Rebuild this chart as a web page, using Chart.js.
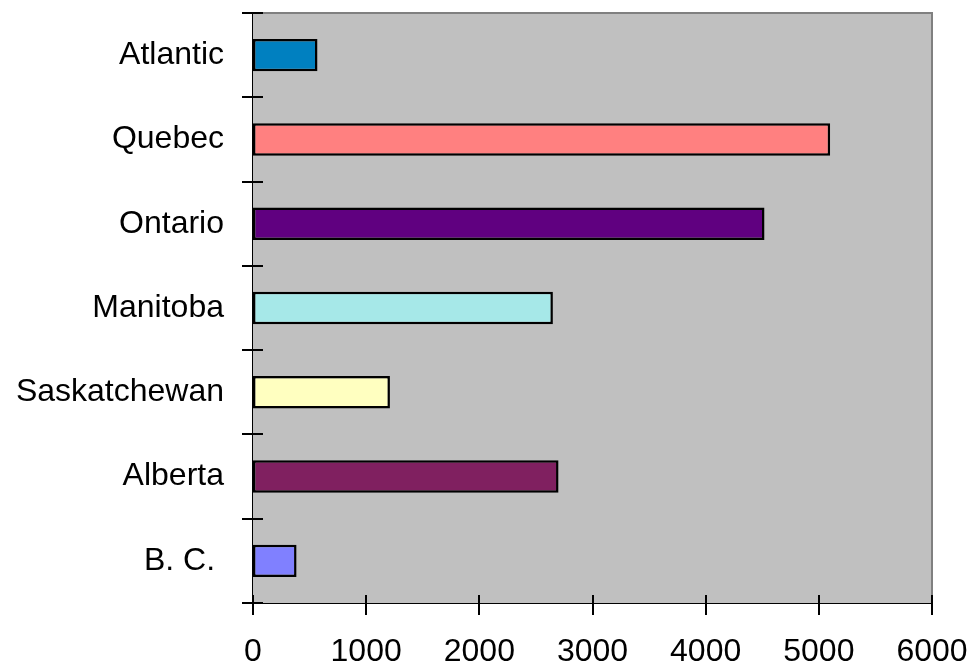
<!DOCTYPE html>
<html>
<head>
<meta charset="utf-8">
<script src="https://cdn.jsdelivr.net/npm/chart.js@4"></script>
<style>
	body { margin: 0; background: #ffffff; }
	#wrap { width: 969px; height: 664px; }
</style>
</head>
<body>
<div id="wrap"><canvas id="chart" width="969" height="664"></canvas></div>
<script>
/* Chart data. */
const regions = ["Atlantic", "Quebec", "Ontario", "Manitoba", "Saskatchewan", "Alberta", "B. C. "];
const amounts = [570, 5100, 4520, 2650, 1210, 2700, 385];
const barColors = ["#0080c0", "#ff8080", "#600080", "#a6e8e8", "#ffffc0", "#802060", "#8080ff"];
const xTicks = [0, 1000, 2000, 3000, 4000, 5000, 6000];

/* Drop the automatic label overflow padding so the plot area keeps its place. */
const noPadding = (scale) => {
	scale.paddingTop = 0;
	scale.paddingBottom = 0;
	scale.paddingLeft = 0;
	scale.paddingRight = 0;
};

/* Grey plot area, grey frame and crossing tick marks. */
const plotFrame = {
	id: "plotFrame",
	beforeDatasetsDraw(chart) {
		const {ctx, chartArea: a} = chart;
		ctx.save();
		ctx.fillStyle = "#c0c0c0";
		ctx.fillRect(a.left, a.top, a.right - a.left, a.bottom - a.top);
		ctx.strokeStyle = "#808080";
		ctx.lineWidth = 2;
		ctx.beginPath();
		ctx.moveTo(a.left, a.top);
		ctx.lineTo(a.right, a.top);
		ctx.lineTo(a.right, a.bottom);
		ctx.stroke();
		ctx.restore();
	},
	afterDraw(chart) {
		const {ctx, chartArea: a, scales} = chart;
		ctx.save();
		ctx.strokeStyle = "#000000";
		ctx.lineWidth = 2;
		ctx.beginPath();
		/* x ticks */
		scales.x.ticks.forEach((t, i) => {
			const px = Math.round(scales.x.getPixelForTick(i));
			ctx.moveTo(px, a.bottom - 8);
			ctx.lineTo(px, a.bottom + 12);
		});
		/* y ticks on category boundaries */
		const n = regions.length;
		for (let i = 0; i <= n; i++) {
			const py = Math.round(a.top + i * (a.bottom - a.top) / n);
			ctx.moveTo(a.left - 11, py);
			ctx.lineTo(a.left + 10, py);
		}
		ctx.stroke();
		ctx.restore();
	},
};

const chart = new Chart(
	document.getElementById("chart"),
	{
		type: "bar",
		data: {
			labels: regions,
			datasets: [
				{
					data: amounts,
					backgroundColor: barColors,
					borderColor: "#000000",
					borderWidth: 2.5,
					borderSkipped: false,
					categoryPercentage: 1,
					barPercentage: 0.385,
				},
			],
		},
		options: {
			indexAxis: "y",
			responsive: false,
			animation: false,
			layout: { padding: { top: 13, right: 37, left: 0, bottom: 0 } },
			plugins: {
				legend: { display: false },
				tooltip: { enabled: false },
			},
			scales: {
				x: {
					min: 0,
					max: 6000,
					afterBuildTicks: (scale) => { scale.ticks = xTicks.map((v) => ({ value: v })); },
					afterFit: (scale) => { scale.height = 61; noPadding(scale); },
					grid: { display: false, drawTicks: false },
					border: { display: true, color: "#000000", width: 2 },
					ticks: {
						padding: 30,
						color: "#000000",
						maxRotation: 0,
						callback: (value) => String(value),
						font: { family: "Liberation Sans, Arial, sans-serif", size: 32 },
					},
				},
				y: {
					afterFit: (scale) => { scale.width = 253; noPadding(scale); },
					grid: { display: false, drawTicks: false },
					border: { display: true, color: "#000000", width: 2 },
					ticks: {
						padding: 29,
						color: "#000000",
						font: { family: "Liberation Sans, Arial, sans-serif", size: 32 },
					},
				},
			},
		},
		plugins: [plotFrame],
	}
);
</script>
</body>
</html>
